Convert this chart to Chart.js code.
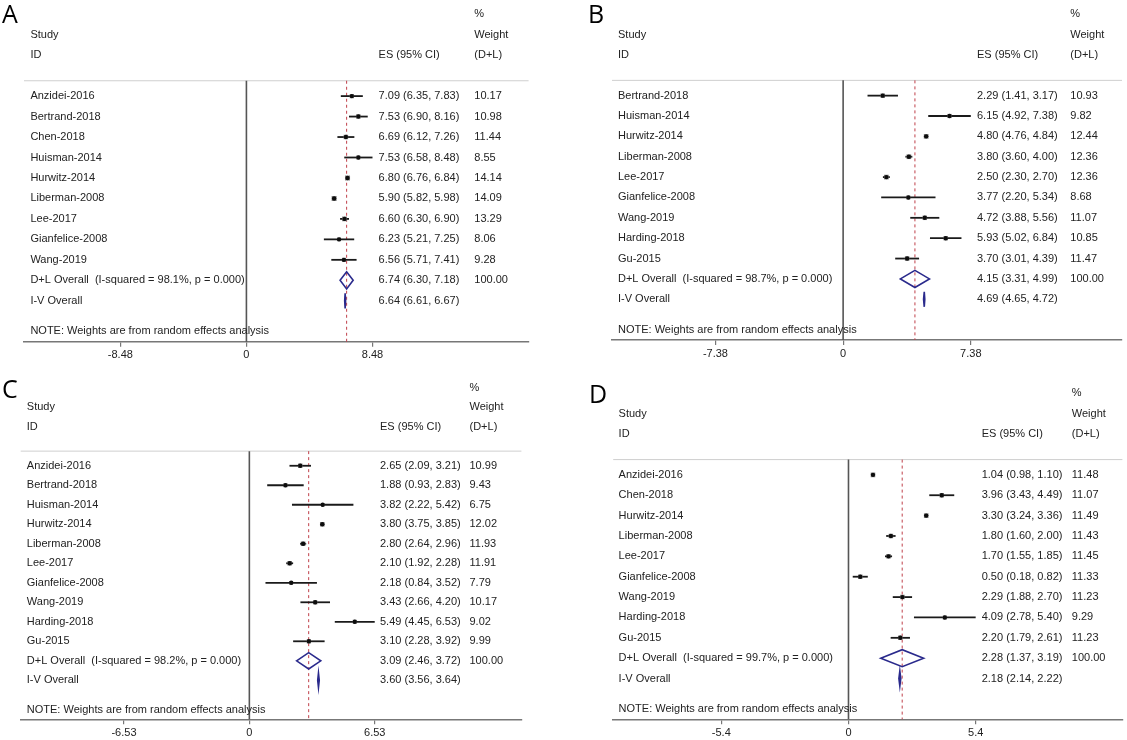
<!DOCTYPE html>
<html>
<head>
<meta charset="utf-8">
<title>Forest plots</title>
<script src="https://cdn.jsdelivr.net/npm/chart.js@4.4.1/dist/chart.umd.min.js"></script>
<style>
  html, body { margin: 0; padding: 0; background: #fff; }
  #page { position: relative; width: 1127px; height: 740px; overflow: hidden; }
  canvas { position: absolute; }
  .letter {
    position: absolute;
    font-family: "Open Sans", "Liberation Sans", sans-serif;
    font-size: 25px;
    line-height: 25px;
    color: #000;
  }
</style>
</head>
<body>
<div id="page">
  <canvas id="chartA" width="560" height="370" style="left:0;top:0"></canvas>
  <canvas id="chartB" width="567" height="370" style="left:560px;top:0"></canvas>
  <canvas id="chartC" width="560" height="370" style="left:0;top:370px"></canvas>
  <canvas id="chartD" width="567" height="370" style="left:560px;top:370px"></canvas>
  <div class="letter" style="left:2px;top:1px">A</div>
  <div class="letter" style="left:588px;top:1px">B</div>
  <div class="letter" style="left:2px;top:376px">C</div>
  <div class="letter" style="left:589px;top:381px">D</div>
</div>

<script>
/* ==========================================
   DATA - PANEL A
========================================== */

const studiesA = ["Anzidei-2016", "Bertrand-2018", "Chen-2018", "Huisman-2014", "Hurwitz-2014",
  "Liberman-2008", "Lee-2017", "Gianfelice-2008", "Wang-2019"];
const esA = [7.09, 7.53, 6.69, 7.53, 6.80, 5.90, 6.60, 6.23, 6.56];
const lowA = [6.35, 6.90, 6.12, 6.58, 6.76, 5.82, 6.30, 5.21, 5.71];
const highA = [7.83, 8.16, 7.26, 8.48, 6.84, 5.98, 6.90, 7.25, 7.41];
const weightA = [10.17, 10.98, 11.44, 8.55, 14.14, 14.09, 13.29, 8.06, 9.28];
const overallA = [6.74, 6.30, 7.18];
const fixedA = [6.64, 6.61, 6.67];
const isqA = "98.1%";
const ticksA = ["-8.48", "0", "8.48"];

/* ==========================================
   DATA - PANEL B
========================================== */

const studiesB = ["Bertrand-2018", "Huisman-2014", "Hurwitz-2014", "Liberman-2008", "Lee-2017",
  "Gianfelice-2008", "Wang-2019", "Harding-2018", "Gu-2015"];
const esB = [2.29, 6.15, 4.80, 3.80, 2.50, 3.77, 4.72, 5.93, 3.70];
const lowB = [1.41, 4.92, 4.76, 3.60, 2.30, 2.20, 3.88, 5.02, 3.01];
const highB = [3.17, 7.38, 4.84, 4.00, 2.70, 5.34, 5.56, 6.84, 4.39];
const weightB = [10.93, 9.82, 12.44, 12.36, 12.36, 8.68, 11.07, 10.85, 11.47];
const overallB = [4.15, 3.31, 4.99];
const fixedB = [4.69, 4.65, 4.72];
const isqB = "98.7%";
const ticksB = ["-7.38", "0", "7.38"];

/* ==========================================
   DATA - PANEL C
========================================== */

const studiesC = ["Anzidei-2016", "Bertrand-2018", "Huisman-2014", "Hurwitz-2014", "Liberman-2008",
  "Lee-2017", "Gianfelice-2008", "Wang-2019", "Harding-2018", "Gu-2015"];
const esC = [2.65, 1.88, 3.82, 3.80, 2.80, 2.10, 2.18, 3.43, 5.49, 3.10];
const lowC = [2.09, 0.93, 2.22, 3.75, 2.64, 1.92, 0.84, 2.66, 4.45, 2.28];
const highC = [3.21, 2.83, 5.42, 3.85, 2.96, 2.28, 3.52, 4.20, 6.53, 3.92];
const weightC = [10.99, 9.43, 6.75, 12.02, 11.93, 11.91, 7.79, 10.17, 9.02, 9.99];
const overallC = [3.09, 2.46, 3.72];
const fixedC = [3.60, 3.56, 3.64];
const isqC = "98.2%";
const ticksC = ["-6.53", "0", "6.53"];

/* ==========================================
   DATA - PANEL D
========================================== */

const studiesD = ["Anzidei-2016", "Chen-2018", "Hurwitz-2014", "Liberman-2008", "Lee-2017",
  "Gianfelice-2008", "Wang-2019", "Harding-2018", "Gu-2015"];
const esD = [1.04, 3.96, 3.30, 1.80, 1.70, 0.50, 2.29, 4.09, 2.20];
const lowD = [0.98, 3.43, 3.24, 1.60, 1.55, 0.18, 1.88, 2.78, 1.79];
const highD = [1.10, 4.49, 3.36, 2.00, 1.85, 0.82, 2.70, 5.40, 2.61];
const weightD = [11.48, 11.07, 11.49, 11.43, 11.45, 11.33, 11.23, 9.29, 11.23];
const overallD = [2.28, 1.37, 3.19];
const fixedD = [2.18, 2.14, 2.22];
const isqD = "99.7%";
const ticksD = ["-5.4", "0", "5.4"];

/* ==========================================
   CHART DEFAULTS
========================================== */

const FONT = '"Liberation Sans", Arial, Helvetica, sans-serif';
Chart.defaults.font.family = FONT;
Chart.defaults.font.size = 11;
Chart.defaults.color = "#222";

const NAVY = "#2a2a8c";

/* ==========================================
   FOREST PLUGIN (rules, CI lines, diamonds, table text)
========================================== */

function fmt(v) {
  return v.toFixed(2);
}

function makeForest(d, cols) {

  function seg(ctx, x1, y1, x2, y2) {
    ctx.beginPath();
    ctx.moveTo(x1, y1);
    ctx.lineTo(x2, y2);
    ctx.stroke();
  }

  function diamond(ctx, xl, xc, xr, yc, h) {
    ctx.beginPath();
    ctx.moveTo(xl, yc);
    ctx.lineTo(xc, yc - h);
    ctx.lineTo(xr, yc);
    ctx.lineTo(xc, yc + h);
    ctx.closePath();
  }

  return {
    id: "forest",

    beforeDatasetsDraw(chart) {
      const { ctx, chartArea: a, scales: { x, y } } = chart;
      const n = d.studies.length;
      const step = Math.abs(y.getPixelForValue(1) - y.getPixelForValue(0));
      const yTop = y.getPixelForValue(-0.75);

      ctx.save();

      /* top rule */
      ctx.strokeStyle = "#cfcfcf";
      ctx.lineWidth = 1;
      seg(ctx, a.left, yTop, a.right, yTop);

      /* no-effect line */
      const x0 = x.getPixelForValue(0);
      ctx.strokeStyle = "#555";
      ctx.lineWidth = 1.6;
      seg(ctx, x0, yTop, x0, a.bottom);

      /* overall effect dashed line */
      const xo = x.getPixelForValue(d.overall[0]);
      ctx.strokeStyle = "#c0404a";
      ctx.lineWidth = 1;
      ctx.setLineDash([3, 3]);
      seg(ctx, xo, yTop, xo, a.bottom);
      ctx.setLineDash([]);

      /* confidence intervals */
      ctx.strokeStyle = "#1a1a1a";
      ctx.lineWidth = 1.8;
      d.es.forEach((v, i) => {
        const yy = y.getPixelForValue(i);
        seg(ctx, x.getPixelForValue(d.low[i]), yy, x.getPixelForValue(d.high[i]), yy);
      });

      /* D+L diamond */
      ctx.strokeStyle = NAVY;
      ctx.lineWidth = 1.6;
      diamond(ctx,
        x.getPixelForValue(d.overall[1]),
        x.getPixelForValue(d.overall[0]),
        x.getPixelForValue(d.overall[2]),
        y.getPixelForValue(n), step * 0.42);
      ctx.stroke();

      /* I-V diamond */
      ctx.fillStyle = NAVY;
      diamond(ctx,
        x.getPixelForValue(d.fixed[1]),
        x.getPixelForValue(d.fixed[0]),
        x.getPixelForValue(d.fixed[2]),
        y.getPixelForValue(n + 1), step * 0.37);
      ctx.fill();
      ctx.stroke();

      ctx.restore();
    },

    afterDraw(chart) {
      const { ctx, chartArea: a, scales: { y } } = chart;
      const n = d.studies.length;
      const cS = a.left + cols[0];
      const cE = a.left + cols[1];
      const cW = a.left + cols[2];

      ctx.save();
      ctx.font = "11px " + FONT;
      ctx.fillStyle = "#222";
      ctx.textAlign = "left";
      ctx.textBaseline = "middle";

      const put = (t, xx, row) => ctx.fillText(t, xx, y.getPixelForValue(row));

      /* header */
      put("%", cW, -4);
      put("Study", cS, -3);
      put("Weight", cW, -3);
      put("ID", cS, -2);
      put("ES (95% CI)", cE, -2);
      put("(D+L)", cW, -2);

      /* studies */
      d.studies.forEach((s, i) => {
        put(s, cS, i);
        put(fmt(d.es[i]) + " (" + fmt(d.low[i]) + ", " + fmt(d.high[i]) + ")", cE, i);
        put(fmt(d.weight[i]), cW, i);
      });

      /* pooled rows */
      put("D+L Overall  (I-squared = " + d.isq + ", p = 0.000)", cS, n);
      put(fmt(d.overall[0]) + " (" + fmt(d.overall[1]) + ", " + fmt(d.overall[2]) + ")", cE, n);
      put("100.00", cW, n);
      put("I-V Overall", cS, n + 1);
      put(fmt(d.fixed[0]) + " (" + fmt(d.fixed[1]) + ", " + fmt(d.fixed[2]) + ")", cE, n + 1);

      put("NOTE: Weights are from random effects analysis", cS, n + 2.5);

      ctx.restore();
    }
  };
}

/* ==========================================
   BUILD ONE FOREST PLOT
========================================== */

function forest(canvasId, d, lay) {
  const n = d.studies.length;
  const pts = d.es.map((v, i) => ({ x: v, y: i }));

  return new Chart(document.getElementById(canvasId), {
    type: "scatter",

    data: {
      datasets: [
        {
          /* study point estimate */
          data: pts,
          order: 1,
          pointStyle: "circle",
          pointRadius: 2.2,
          backgroundColor: "#0d0d0d",
          borderWidth: 0
        },
        {
          /* weight box */
          data: pts,
          order: 2,
          pointStyle: "rect",
          pointRadius: (c) => 0.95 * Math.sqrt(d.weight[c.dataIndex] || 0),
          backgroundColor: "#8a8a8a",
          borderWidth: 0
        }
      ]
    },

    options: {
      responsive: false,
      animation: false,
      events: [],
      layout: {
        padding: { left: lay.pad[0], right: lay.pad[1], top: lay.pad[2], bottom: 0 }
      },
      plugins: {
        legend: { display: false },
        tooltip: { enabled: false }
      },
      scales: {
        x: {
          type: "linear",
          min: lay.range[0],
          max: lay.range[1],
          afterBuildTicks: (s) => {
            s.ticks = d.ticks.map((t) => ({ value: parseFloat(t) }));
          },
          afterFit: (s) => {
            s.height = lay.axisH;
          },
          ticks: {
            callback: (v, i) => d.ticks[i],
            maxRotation: 0,
            autoSkip: false,
            padding: 2,
            color: "#222",
            font: { size: 11 }
          },
          grid: {
            drawOnChartArea: false,
            drawTicks: true,
            tickLength: 5,
            color: "#777",
            lineWidth: 1.2
          },
          border: { display: true, color: "#777", width: 1.5 }
        },
        y: {
          type: "linear",
          display: false,
          reverse: true,
          min: -4.5,
          max: n + 3
        }
      }
    },

    plugins: [makeForest(d, lay.cols)]
  });
}

/* ==========================================
   PANELS
========================================== */

forest("chartA",
  { studies: studiesA, es: esA, low: lowA, high: highA, weight: weightA,
    overall: overallA, fixed: fixedA, isq: isqA, ticks: ticksA },
  { range: [-14.96, 18.98], pad: [24, 31.4, 0], axisH: 28.3, cols: [6.4, 354.6, 450.3] });

forest("chartB",
  { studies: studiesB, es: esB, low: lowB, high: highB, weight: weightB,
    overall: overallB, fixed: fixedB, isq: isqB, ticks: ticksB },
  { range: [-13.36, 16.12], pad: [52, 5, 0], axisH: 30, cols: [6, 365, 458.3] });

forest("chartC",
  { studies: studiesC, es: esC, low: lowC, high: highC, weight: weightC,
    overall: overallC, fixed: fixedC, isq: isqC, ticks: ticksC },
  { range: [-11.91, 14.17], pad: [20.7, 38.6, 8], axisH: 20.7, cols: [6.1, 359.3, 448.8] });

forest("chartD",
  { studies: studiesD, es: esD, low: lowD, high: highD, weight: weightD,
    overall: overallD, fixed: fixedD, isq: isqD, ticks: ticksD },
  { range: [-9.99, 11.63], pad: [53.2, 4.6, 13.2], axisH: 20.7, cols: [5.4, 368.5, 458.6] });
</script>
</body>
</html>
